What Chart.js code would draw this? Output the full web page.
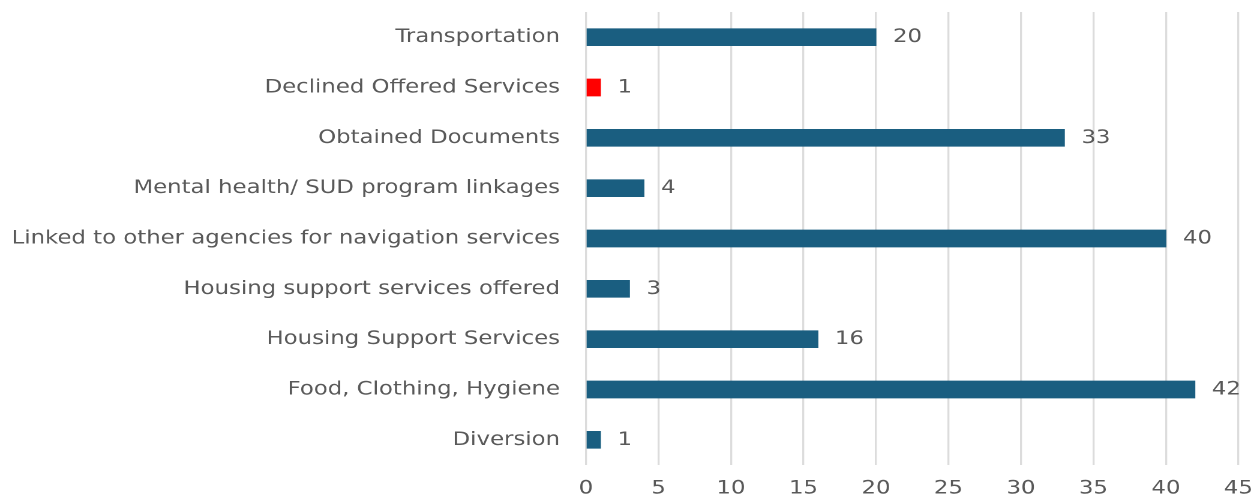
<!DOCTYPE html>
<html>
<head>
<meta charset="utf-8">
<script src="https://cdn.jsdelivr.net/npm/chart.js@4.4.1/dist/chart.umd.min.js"></script>
<style>
html,body{margin:0;padding:0;background:#fff;overflow:hidden;width:1255px;height:498px;}
#wrap{width:1046px;height:498px;transform:scaleX(1.2);transform-origin:0 0;}
canvas{display:block;}
</style>
</head>
<body>
<div id="wrap"><canvas id="c"></canvas></div>
<script>
const categories = [
  "Transportation",
  "Declined Offered Services",
  "Obtained Documents",
  "Mental health/ SUD program linkages",
  "Linked to other agencies for navigation services",
  "Housing support services offered",
  "Housing Support Services",
  "Food, Clothing, Hygiene",
  "Diversion"
];
const values = [20, 1, 33, 4, 40, 3, 16, 42, 1];
const barColors = ["#1a5e80", "#ff0000", "#1a5e80", "#1a5e80", "#1a5e80", "#1a5e80", "#1a5e80", "#1a5e80", "#1a5e80"];
const xTicksMax = 45;
const xTickStep = 5;

const SX = 1.2;
const FONT = "'DejaVu Sans', sans-serif";
const TEXT = "#595959";
const SIZE = 19;

const valueLabels = {
  id: 'valueLabels',
  afterDatasetsDraw(chart) {
    const ctx = chart.ctx;
    const meta = chart.getDatasetMeta(0);
    ctx.save();
    ctx.font = SIZE + "px " + FONT;
    ctx.fillStyle = TEXT;
    ctx.textAlign = 'left';
    ctx.textBaseline = 'middle';
    meta.data.forEach((bar, i) => {
      ctx.fillText(String(chart.data.datasets[0].data[i]), bar.x + 17 / SX, bar.y);
    });
    ctx.restore();
  }
};

new Chart(document.getElementById('c'), {
  type: 'bar',
  data: {
    labels: categories,
    datasets: [{
      data: values,
      backgroundColor: barColors,
      barThickness: 17,
      borderWidth: 0
    }]
  },
  options: {
    indexAxis: 'y',
    responsive: true,
    maintainAspectRatio: false,
    devicePixelRatio: 2,
    animation: false,
    layout: { padding: { top: 12, right: 0, left: 0, bottom: 0 } },
    plugins: { legend: { display: false }, tooltip: { enabled: false } },
    scales: {
      x: {
        min: 0,
        max: xTicksMax,
        ticks: { stepSize: xTickStep, color: TEXT, font: { family: FONT, size: SIZE }, padding: 12, maxRotation: 0 },
        grid: { color: "#dcdcdc", lineWidth: 2 / SX, drawTicks: false },
        border: { display: false },
        afterFit(scale) {
          scale.height = 33; scale.paddingTop = 0; scale.paddingBottom = 0;
          scale.paddingRight = 14;
        }
      },
      y: {
        ticks: { color: TEXT, font: { family: FONT, size: SIZE }, padding: 26 / SX, crossAlign: 'near' },
        grid: { display: false, drawTicks: false },
        border: { display: false },
        afterFit(scale) { scale.width = 586 / SX; scale.paddingTop = 0; scale.paddingBottom = 0; }
      }
    }
  },
  plugins: [valueLabels]
});
</script>
</body>
</html>
